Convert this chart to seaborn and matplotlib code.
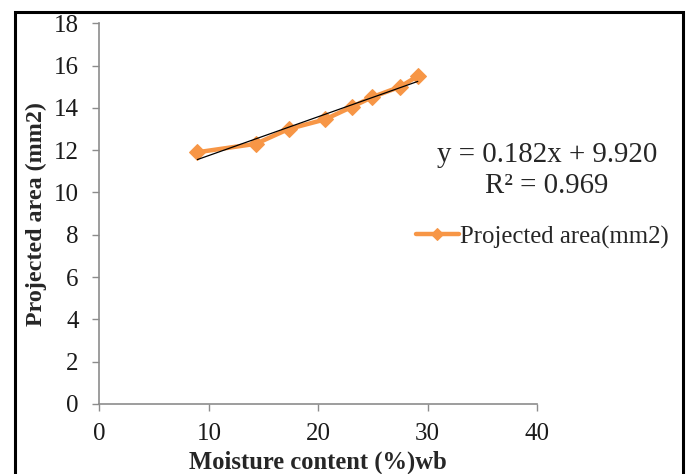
import matplotlib
matplotlib.use("Agg")
import matplotlib.pyplot as plt
import seaborn as sns
import pandas as pd
import numpy as np
from matplotlib.patches import Rectangle

moisture = [8.95, 14.3, 17.3, 20.6, 23.1, 24.9, 27.5, 29.1]
area = [11.9, 12.3, 13.0, 13.45, 14.05, 14.5, 15.0, 15.5]
series_name = "Projected area(mm2)"
equation_text = "y = 0.182x + 9.920"
r2_text = "R² = 0.969"
x_ticks = [0, 10, 20, 30, 40]
y_ticks = [0, 2, 4, 6, 8, 10, 12, 14, 16, 18]

df = pd.DataFrame({"moisture": moisture, "area": area})

sns.set_theme(style="white")
plt.rcParams["font.family"] = ["Liberation Serif", "DejaVu Serif"]

fig = plt.figure(figsize=(6.88, 4.74), dpi=100)
ax = fig.add_axes([0.1446, 0.1477, 0.7805 - 0.1446, 0.951 - 0.1477])

orange = "#F79646"
sns.lineplot(data=df, x="moisture", y="area", ax=ax, color=orange, lw=3.2,
             marker="D", markersize=8.5, markeredgecolor=orange,
             label=series_name, zorder=2)
sns.regplot(data=df, x="moisture", y="area", ax=ax, scatter=False, ci=None,
            truncate=True, line_kws=dict(color="black", lw=0.9, zorder=3))

ax.set_xlim(0, 40)
ax.set_ylim(0, 18)
ax.set_xticks(x_ticks)
ax.set_yticks(y_ticks)
ax.tick_params(axis="both", which="major", direction="out", length=5, width=1,
               color="#8c8c8c", labelsize=18, labelcolor="#1a1a1a", pad=9,
               bottom=True, left=True)
ax.tick_params(axis="y", pad=10)
for s in ["top", "right"]:
    ax.spines[s].set_visible(False)
for s in ["left", "bottom"]:
    ax.spines[s].set_color("#8c8c8c")
    ax.spines[s].set_linewidth(1.2)

ax.set_xlabel("Moisture content (%)wb", fontsize=17.7, fontweight="bold", labelpad=4)
ax.set_ylabel("Projected area (mm2)", fontsize=17.3, fontweight="bold", labelpad=5)

fig.text(547 / 688, 1 - 155 / 474, equation_text, ha="center", va="center", fontsize=20.8)
fig.text(547 / 688, 1 - 186 / 474, r2_text, ha="center", va="center", fontsize=20.8)

leg = ax.legend(loc="center left", bbox_to_anchor=(416 / 688, 1 - 237 / 474),
                bbox_transform=fig.transFigure, frameon=False, fontsize=17.8,
                handlelength=1.72, handletextpad=0.08, borderpad=0, borderaxespad=0,
                markerscale=0.75)

fig.add_artist(Rectangle((15 / 688, -0.02), (683 - 15) / 688, 1.02 - 11.5 / 474,
                         transform=fig.transFigure, fill=False, edgecolor="black",
                         lw=2.2))

fig.savefig("out.png", dpi=100)
